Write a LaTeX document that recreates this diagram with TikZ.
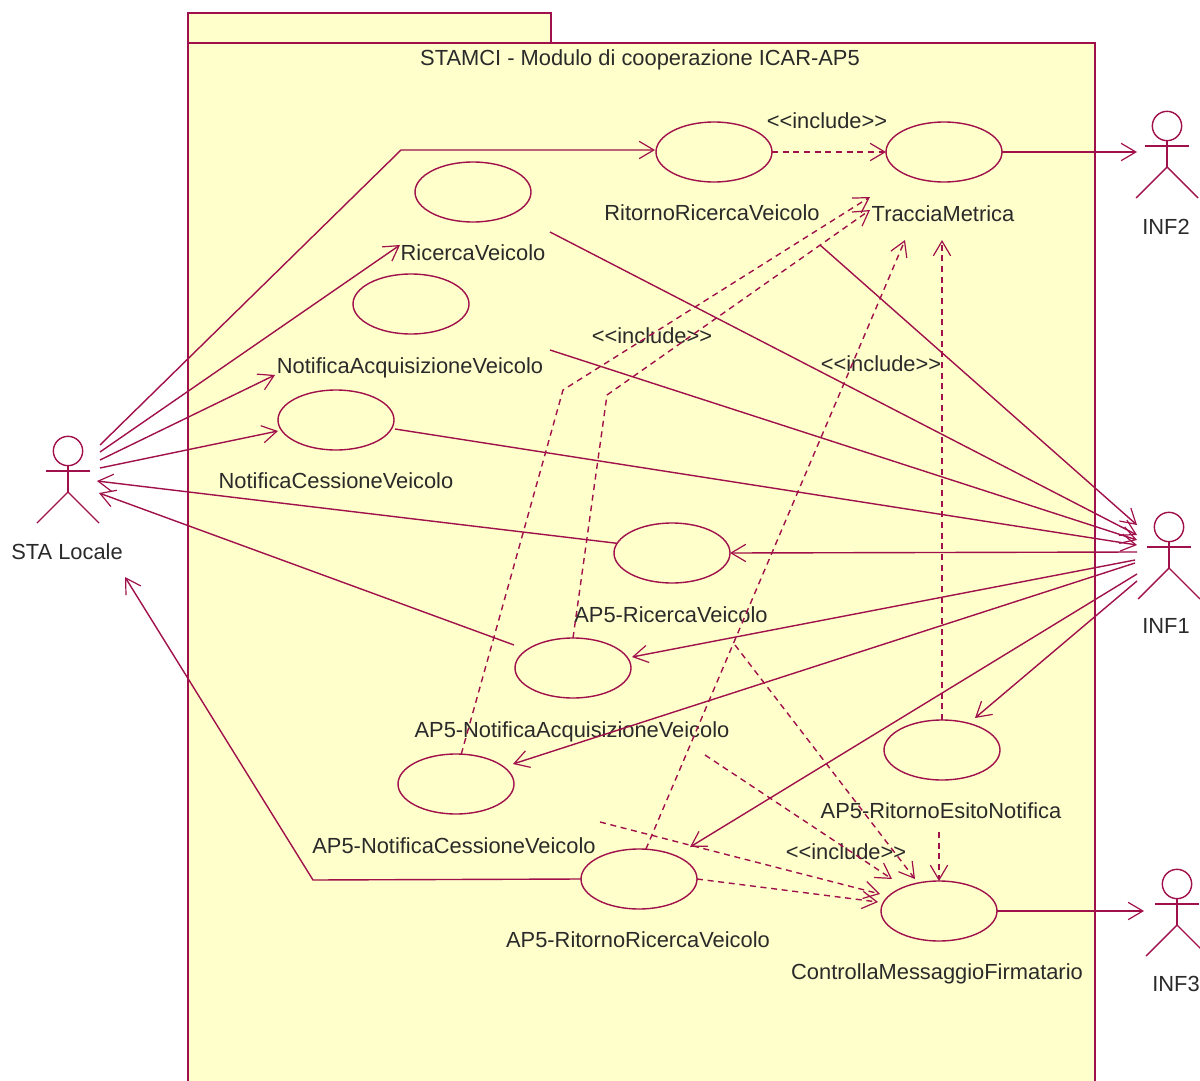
\documentclass[tikz,border=0pt]{standalone}
\usepackage{fontspec}
\setmainfont{Liberation Sans}
\usetikzlibrary{shapes.geometric,arrows.meta,calc}
\definecolor{umlline}{HTML}{A0104A}
\definecolor{umlfill}{HTML}{FFFFCC}
\definecolor{umltext}{HTML}{2A2A2A}
\tikzset{
  usecase/.style={draw=umlline,ellipse,line width=1.05pt,minimum width=87pt,minimum height=45pt,inner sep=0pt,outer sep=0pt,fill=umlfill},
  lbl/.style={text=umltext,font=\fontsize{16.4}{18}\selectfont,inner sep=0pt,outer sep=0pt},
  assoc/.style={draw=umlline,line width=1.05pt,-{Straight Barb[length=11pt,width=13pt,line width=0.9pt]}},
  dep/.style={assoc,dash pattern=on 4.5pt off 3.5pt},
  limb/.style={draw=umlline,line width=1.05pt},
  pkg/.style={draw=umlline,line width=1.2pt,fill=umlfill},
}
\newcommand{\umlactor}[3]{% name, head x, head y
  \node[draw=umlline,circle,line width=1.05pt,minimum size=22pt,inner sep=0pt,outer sep=0pt] (#1) at (#2,#3) {};
  \coordinate (#1hip) at (#2,#3+41);
  \draw[limb] (#1.south) -- (#1hip);
  \draw[limb] ($(#1hip)+(-22,-21)$) -- ($(#1hip)+(22,-21)$);
  \draw[limb] (#1hip) -- ($(#1hip)+(-31,31)$);
  \draw[limb] (#1hip) -- ($(#1hip)+(31,31)$);
}
\begin{document}
\begin{tikzpicture}[x=0.75pt,y=-0.75pt]
\clip (0,0) rectangle (1200,1081);
\fill[white] (0,0) rectangle (1200,1081);
% package
\draw[pkg] (188,43) rectangle (551,13);
\draw[pkg] (188,43) rectangle (1095,1100);
\node[lbl] (title) at (640,60) {STAMCI - Modulo di cooperazione ICAR-AP5};
% use cases
\node[usecase] (uRit) at (714,152) {};
\node[usecase] (uTra) at (944,152) {};
\node[usecase] (uRic) at (473,192) {};
\node[usecase] (uAcq) at (411,304) {};
\node[usecase] (uCes) at (336,420) {};
\node[usecase] (uARic) at (672,553) {};
\node[usecase] (uAAcq) at (573,668) {};
\node[usecase] (uACes) at (456,784) {};
\node[usecase] (uARit) at (639,879) {};
\node[usecase] (uAEsi) at (942,750) {};
\node[usecase] (uCon) at (939,911) {};
% labels
\node[lbl] (lRit) at (712,213) {RitornoRicercaVeicolo};
\node[lbl] (lTra) at (943,214) {TracciaMetrica};
\node[lbl] (lRic) at (473,253) {RicercaVeicolo};
\node[lbl] (lAcq) at (410,368) {NotificaAcquisizioneVeicolo};
\node[lbl] (lCes) at (336,481) {NotificaCessioneVeicolo};
\node[lbl] (lARic) at (671,615) {AP5-RicercaVeicolo};
\node[lbl] (lAAcq) at (572,732) {AP5-NotificaAcquisizioneVeicolo};
\node[lbl] (lACes) at (454,846) {AP5-NotificaCessioneVeicolo};
\node[lbl] (lARit) at (638,940) {AP5-RitornoRicercaVeicolo};
\node[lbl] (lAEsi) at (941,811) {AP5-RitornoEsitoNotifica};
\node[lbl] (lCon) at (937,974) {ControllaMessaggioFirmatario};
\node[lbl] (i1) at (827,121) {<{}<include>{}>};
\node[lbl] (i2) at (652,336) {<{}<include>{}>};
\node[lbl] (i3) at (881,364) {<{}<include>{}>};
\node[lbl] (i4) at (846,852) {<{}<include>{}>};
% actors
\umlactor{sta}{68}{451}
\umlactor{infB}{1167}{126}
\umlactor{infA}{1169}{527}
\umlactor{infC}{1177}{884}
\node[lbl] (lSta) at (67,552) {STA Locale};
\node[lbl] (lInfB) at (1166,227) {INF2};
\node[lbl] (lInfA) at (1166,626) {INF1};
\node[lbl] (lInfC) at (1176,984) {INF3};
% free ends
\coordinate (sa) at (100,445);
\coordinate (sb) at (100,452);
\coordinate (sc) at (100,460);
\coordinate (sd) at (100,468);
\coordinate (se) at (97,481);
\coordinate (sf) at (99,493);
\coordinate (sg) at (125,577);
\coordinate (bendA) at (401,150);
\coordinate (bendG) at (313,880);
\coordinate (ricEnd) at (400,245);
\coordinate (acqEnd) at (275,375);
\coordinate (cesEnd) at (278,431);
\coordinate (ritEnd) at (655,150);
\coordinate (aacqFrom) at (514,645);
\coordinate (aacqEnd) at (632,657);
\coordinate (acesEnd) at (513,764);
\coordinate (aritEnd) at (690,847);
\coordinate (aesiEnd) at (975,718);
\coordinate (cesFrom) at (395,429);
\coordinate (ricStart) at (550,232);
\coordinate (ritStart) at (820,245);
\coordinate (acqStart) at (550,350);
\coordinate (ia) at (1137,535);
\coordinate (ib) at (1137,525);
\coordinate (ic) at (1137,540);
\coordinate (id) at (1137,545);
\coordinate (ie) at (1137,552);
\coordinate (if) at (1135,560);
\coordinate (ig) at (1135,563);
\coordinate (ih) at (1137,574);
\coordinate (ii) at (1137,581);
\coordinate (ba) at (1137,152);
\coordinate (ca) at (1144,911);
\coordinate (ta) at (870,197);
\coordinate (tb) at (870,210);
\coordinate (tc) at (905,240);
\coordinate (td) at (942,240);
\coordinate (bendP) at (563,390);
\coordinate (bendQ) at (607,395);
\coordinate (da) at (735,645);
\coordinate (db) at (705,755);
\coordinate (dc) at (600,822);
\coordinate (dd) at (939,832);
\coordinate (cona) at (915,879);
\coordinate (conb) at (892,879);
\coordinate (conc) at (880,894);
\coordinate (cond) at (878,902);
% associations
\draw[assoc] (sa) -- (bendA) -- (ritEnd);
\draw[assoc] (sb) -- (ricEnd);
\draw[assoc] (sc) -- (acqEnd);
\draw[assoc] (sd) -- (cesEnd);
\draw[assoc] (uARic.170) -- (se);
\draw[assoc] (aacqFrom) -- (sf);
\draw[assoc] (uARit.west) -- (bendG) -- (sg);
\draw[assoc] (uTra.east) -- (ba);
\draw[assoc] (ricStart) -- (ia);
\draw[assoc] (ritStart) -- (ib);
\draw[assoc] (acqStart) -- (ic);
\draw[assoc] (cesFrom) -- (id);
\draw[assoc] (ie) -- (uARic.east);
\draw[assoc] (if) -- (aacqEnd);
\draw[assoc] (ig) -- (acesEnd);
\draw[assoc] (ih) -- (aritEnd);
\draw[assoc] (ii) -- (aesiEnd);
\draw[assoc] (uCon.east) -- (ca);
% dependencies
\draw[dep] (uRit.east) -- (uTra.west);
\draw[dep] (uACes.80) -- (bendP) -- (ta);
\draw[dep] (uAAcq.north) -- (bendQ) -- (tb);
\draw[dep] (uARit.77) -- (tc);
\draw[dep] (uAEsi.north) -- (td);
\draw[dep] (da) -- (cona);
\draw[dep] (db) -- (conb);
\draw[dep] (dc) -- (conc);
\draw[dep] (uARit.east) -- (cond);
\draw[dep] (dd) -- (uCon.north);
\end{tikzpicture}
\end{document}
